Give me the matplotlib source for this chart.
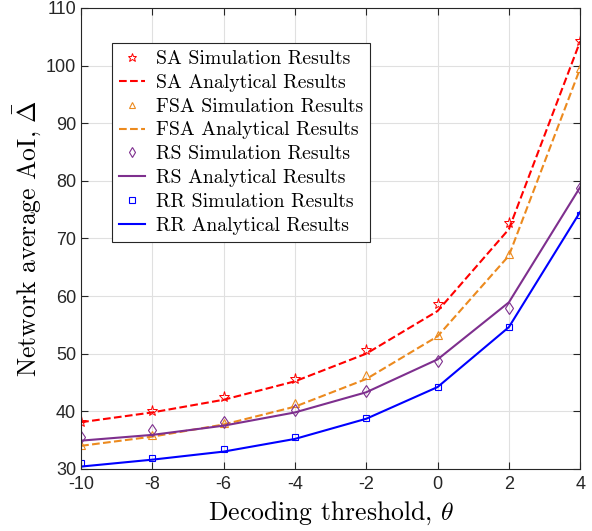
import numpy as np
import matplotlib.pyplot as plt

theta = [-10, -8, -6, -4, -2, 0, 2, 4]

sa_sim = [38.2, 40.0, 42.4, 45.6, 50.7, 58.7, 72.6, 104.2]
sa_ana = [38.1, 39.8, 42.0, 45.2, 50.0, 57.4, 71.6, 104.2]
fsa_sim = [34.2, 35.9, 38.0, 41.4, 46.3, 53.3, 67.3, 99.6]
fsa_ana = [34.0, 35.6, 37.7, 40.8, 45.6, 53.0, 67.0, 99.5]
rs_sim = [35.6, 36.7, 38.1, 40.2, 43.5, 48.7, 58.0, 78.8]
rs_ana = [34.9, 35.9, 37.5, 39.8, 43.3, 49.0, 58.9, 78.9]
rr_sim = [31.0, 31.9, 33.4, 35.6, 38.8, 44.2, 54.6, 74.0]
rr_ana = [30.4, 31.6, 33.0, 35.2, 38.7, 44.2, 54.6, 74.6]

plt.rcParams['mathtext.fontset'] = 'cm'
plt.rcParams['axes.unicode_minus'] = False

red = '#FF0000'
orange = '#EC8A1E'
purple = '#7E2F8E'
blue = '#0000FF'

fig = plt.figure(figsize=(5.92, 5.31), dpi=100)
ax = fig.add_axes([0.137, 0.117, 0.843, 0.868])

ax.plot(theta, sa_sim, '*', color=red, mfc='none', ms=8, mew=0.7, label='SA Simulation Results')
ax.plot(theta, sa_ana, '--', color=red, lw=1.5, label='SA Analytical Results')
ax.plot(theta, fsa_sim, '^', color=orange, mfc='none', ms=6, mew=0.8, label='FSA Simulation Results')
ax.plot(theta, fsa_ana, '--', color=orange, lw=1.5, label='FSA Analytical Results')
ax.plot(theta, rs_sim, 'd', color=purple, mfc='none', ms=6, mew=0.8, label='RS Simulation Results')
ax.plot(theta, rs_ana, '-', color=purple, lw=1.5, label='RS Analytical Results')
ax.plot(theta, rr_sim, 's', color=blue, mfc='none', ms=5, mew=0.8, label='RR Simulation Results')
ax.plot(theta, rr_ana, '-', color=blue, lw=1.5, label='RR Analytical Results')

ax.set_xlim(-10, 4)
ax.set_ylim(30, 110)
ax.set_xticks(np.arange(-10, 5, 2))
ax.set_yticks(np.arange(30, 111, 10))
ax.grid(True, color='#E0E0E0', lw=0.8)
ax.set_axisbelow(True)
ax.tick_params(direction='in', top=True, right=True, length=5, color='#262626',
               labelsize=13, labelcolor='#262626')
ax.tick_params(axis='x', pad=5)
for lab in ax.get_xticklabels() + ax.get_yticklabels():
    lab.set_family('Liberation Sans')
for s in ax.spines.values():
    s.set_color('#262626')
    s.set_linewidth(0.8)

ax.set_xlabel(r'Decoding threshold, $\theta$', family='cmr10', fontsize=18.5, labelpad=5)
ax.set_ylabel(r'Network average AoI, $\bar{\Delta}$', family='cmr10', fontsize=18.5, labelpad=2)

leg = ax.legend(loc='upper left', bbox_to_anchor=(0.062, 0.924), borderaxespad=0,
                prop={'family': 'cmr10', 'size': 14.2}, markerscale=0.8,
                fancybox=False, framealpha=1, edgecolor='#262626', handlelength=1.3,
                handletextpad=0.6, labelspacing=0.3, borderpad=0.35)
leg.get_frame().set_linewidth(0.8)

fig.savefig('out.png', dpi=100)
